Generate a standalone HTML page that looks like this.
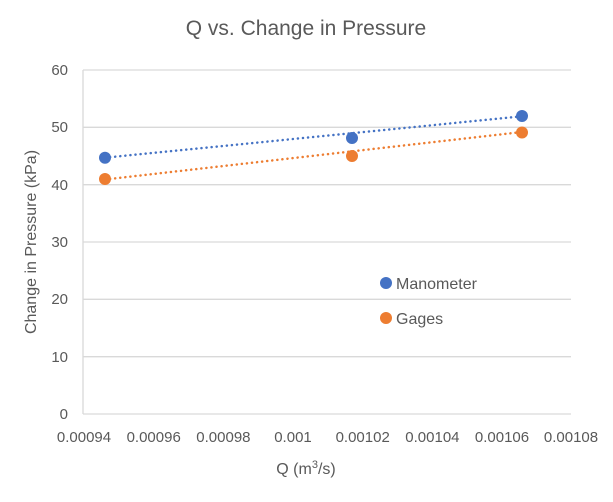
<!DOCTYPE html>
<html><head><style>body{margin:0;background:#fff}</style></head><body>
<svg width="613" height="497" xmlns="http://www.w3.org/2000/svg" font-family="Liberation Sans, sans-serif">
<rect width="613" height="497" fill="#fff"/>
<text x="306" y="35" font-size="21" fill="#595959" text-anchor="middle">Q vs. Change in Pressure</text>
<g stroke="#d9d9d9" stroke-width="1.3">
<line x1="83" y1="70" x2="571" y2="70"/><line x1="83" y1="127.3" x2="571" y2="127.3"/>
<line x1="83" y1="184.7" x2="571" y2="184.7"/><line x1="83" y1="242" x2="571" y2="242"/>
<line x1="83" y1="299.3" x2="571" y2="299.3"/><line x1="83" y1="356.7" x2="571" y2="356.7"/>
<line x1="83" y1="414" x2="571" y2="414"/><line x1="83" y1="70" x2="83" y2="414"/>
</g>
<g font-size="15" fill="#595959" text-anchor="end">
<text x="68" y="75">60</text><text x="68" y="132">50</text><text x="68" y="190">40</text>
<text x="68" y="247">30</text><text x="68" y="304">20</text><text x="68" y="362">10</text><text x="68" y="419">0</text>
</g>
<g font-size="15" fill="#595959" text-anchor="middle">
<text x="84" y="442">0.00094</text><text x="153.7" y="442">0.00096</text><text x="223.4" y="442">0.00098</text>
<text x="293" y="442">0.001</text><text x="362.7" y="442">0.00102</text><text x="432.4" y="442">0.00104</text>
<text x="502" y="442">0.00106</text><text x="571" y="442">0.00108</text>
</g>
<text x="306" y="474" font-size="16" fill="#595959" text-anchor="middle">Q (m<tspan dy="-6" font-size="11">3</tspan><tspan dy="6">/s)</tspan></text>
<text transform="translate(36,242) rotate(-90)" font-size="16" fill="#595959" text-anchor="middle">Change in Pressure (kPa)</text>
<line x1="105" y1="157.7" x2="522" y2="116.3" stroke="#4472c4" stroke-width="2.5" stroke-dasharray="0.1,5" stroke-linecap="round"/>
<line x1="105" y1="179.5" x2="522" y2="132" stroke="#ed7d31" stroke-width="2.5" stroke-dasharray="0.1,5" stroke-linecap="round"/>
<g fill="#4472c4"><circle cx="105" cy="157.7" r="6"/><circle cx="352" cy="138" r="6"/><circle cx="522" cy="116" r="6"/><circle cx="386" cy="283" r="6"/></g>
<g fill="#ed7d31"><circle cx="105" cy="179" r="6"/><circle cx="352" cy="156" r="6"/><circle cx="522" cy="132.5" r="6"/><circle cx="386" cy="318" r="6"/></g>
<g font-size="16" fill="#595959"><text x="396" y="289">Manometer</text><text x="396" y="324">Gages</text></g>
</svg>
</body></html>
